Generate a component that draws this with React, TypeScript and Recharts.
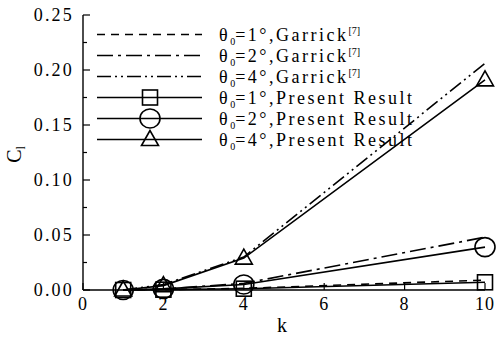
import React from 'react';
import {
  LineChart,
  Line,
  XAxis,
  YAxis,
  Legend,
} from 'recharts';

// reduced frequency k and lift coefficient for each pitch amplitude
const kValues = [1, 2, 4, 10];
const garrick1 = [0, 0.0003, 0.0015, 0.009];
const garrick2 = [0, 0.001, 0.006, 0.048];
const garrick4 = [0, 0.005, 0.03, 0.206];
const present1 = [0, 0.0003, 0.0012, 0.007];
const present2 = [0, 0.001, 0.005, 0.039];
const present4 = [0, 0.004, 0.029, 0.191];

const xTicks = [0, 2, 4, 6, 8, 10];
const yTicks = [0, 0.025, 0.05, 0.075, 0.1, 0.125, 0.15, 0.175, 0.2, 0.225, 0.25];
const yLabelled = [0, 0.05, 0.1, 0.15, 0.2, 0.25];

const data = kValues.map((k, i) => ({
  k,
  g1: garrick1[i],
  g2: garrick2[i],
  g4: garrick4[i],
  p1: present1[i],
  p2: present2[i],
  p4: present4[i],
}));

const FONT = "'Liberation Serif', 'DejaVu Serif', serif";

type Marker = 'square' | 'circle' | 'triangle' | null;

const series: { key: string; angle: string; source: string; dash?: string; marker: Marker }[] = [
  { key: 'g1', angle: '1°', source: 'Garrick', dash: '8 6', marker: null },
  { key: 'g2', angle: '2°', source: 'Garrick', dash: '16 5 3 5', marker: null },
  { key: 'g4', angle: '4°', source: 'Garrick', dash: '14 4 2 4 2 4', marker: null },
  { key: 'p1', angle: '1°', source: 'Present Result', marker: 'square' },
  { key: 'p2', angle: '2°', source: 'Present Result', marker: 'circle' },
  { key: 'p4', angle: '4°', source: 'Present Result', marker: 'triangle' },
];

function drawMarker(kind: Marker, cx: number, cy: number, key?: string) {
  const common = { stroke: '#000', strokeWidth: 1.6, fill: 'none' };
  if (kind === 'square') return <rect key={key} x={cx - 7.5} y={cy - 7.5} width={15} height={15} {...common} />;
  if (kind === 'circle') return <ellipse key={key} cx={cx} cy={cy} rx={10} ry={9.5} {...common} />;
  if (kind === 'triangle')
    return <polygon key={key} points={`${cx},${cy - 9} ${cx - 8.5},${cy + 6} ${cx + 8.5},${cy + 6}`} {...common} />;
  return null;
}

const isLabelled = (v: number) => yLabelled.some((t) => Math.abs(t - v) < 1e-9);

const LeftTick = ({ x, y, payload }: any) => (
  <g>
    <line x1={x} x2={x + (isLabelled(payload.value) ? 7 : 4)} y1={y} y2={y} stroke="#000" strokeWidth={1.2} />
    {isLabelled(payload.value) && (
      <text x={x - 9} y={y} dy={6} textAnchor="end" style={{ fontFamily: FONT }} fontSize={18} letterSpacing={2.2} fill="#000">
        {payload.value.toFixed(2)}
      </text>
    )}
  </g>
);

const RightTick = ({ x, y, payload }: any) => (
  <line x1={x} x2={x - (isLabelled(payload.value) ? 7 : 4)} y1={y} y2={y} stroke="#000" strokeWidth={1.2} />
);

const BottomTick = ({ x, y, payload }: any) => (
  <g>
    <line x1={x} x2={x} y1={y} y2={y - 7} stroke="#000" strokeWidth={1.2} />
    <text x={x} y={y} dy={20} textAnchor="middle" style={{ fontFamily: FONT }} fontSize={18} letterSpacing={1} fill="#000">
      {payload.value}
    </text>
  </g>
);

const TopTick = ({ x, y }: any) => <line x1={x} x2={x} y1={y} y2={y + 7} stroke="#000" strokeWidth={1.2} />;

const LegendBox = () => (
  <div style={{ fontFamily: FONT, fontSize: 18, letterSpacing: 2.5, color: '#000', lineHeight: '21px' }}>
    {series.map((s) => (
      <div key={s.key} style={{ display: 'flex', alignItems: 'center', height: 21 }}>
        <svg width={106} height={21} style={{ display: 'block' }}>
          <line x1={0} x2={105} y1={10.5} y2={10.5} stroke="#000" strokeWidth={1.6} strokeDasharray={s.dash} />
          {drawMarker(s.marker, 53, 10.5)}
        </svg>
        <span style={{ marginLeft: 16, whiteSpace: 'nowrap', lineHeight: '18px' }}>
          θ<sub style={{ fontSize: 10, verticalAlign: -4, letterSpacing: 0, lineHeight: 0 }}>0</sub>={s.angle},{s.source}
          {s.source === 'Garrick' && (
            <sup style={{ fontSize: 10, verticalAlign: 7, letterSpacing: 0, lineHeight: 0 }}>[7]</sup>
          )}
        </span>
      </div>
    ))}
  </div>
);

const YTitle = ({ viewBox }: any) => {
  const cx = 21;
  const cy = viewBox.y + viewBox.height / 2 + 2;
  return (
    <text transform={`translate(${cx},${cy}) rotate(-90)`} textAnchor="middle" style={{ fontFamily: FONT }} fontSize={20} fill="#000">
      C<tspan fontSize={12} dy={4}>l</tspan>
    </text>
  );
};

const XTitle = ({ viewBox }: any) => (
  <text x={viewBox.x + viewBox.width / 2 - 2} y={332} textAnchor="middle" style={{ fontFamily: FONT }} fontSize={20} fill="#000">
    k
  </text>
);

export default function App() {
  return (
    <div style={{ position: 'absolute', left: 0, top: 0, width: 498, height: 339, background: '#fff' }}>
      <LineChart width={498} height={339} data={data} margin={{ top: 15, right: 13, bottom: 0, left: 0 }}>
        <XAxis
          dataKey="k"
          type="number"
          domain={[0, 10]}
          ticks={xTicks}
          interval={0}
          height={49}
          tickSize={0}
          tickMargin={0}
          tickLine={false}
          axisLine={{ stroke: '#000', strokeWidth: 1.4 }}
          tick={BottomTick}
          label={<XTitle />}
        />
        <XAxis
          xAxisId="top"
          orientation="top"
          type="number"
          domain={[0, 10]}
          allowDataOverflow
          ticks={xTicks}
          interval={0}
          height={0}
          tickSize={0}
          tickMargin={0}
          tickLine={false}
          axisLine={{ stroke: '#000', strokeWidth: 1.4 }}
          tick={TopTick}
        />
        <YAxis
          type="number"
          domain={[0, 0.25]}
          ticks={yTicks}
          interval={0}
          width={83}
          tickSize={0}
          tickMargin={0}
          tickLine={false}
          axisLine={{ stroke: '#000', strokeWidth: 1.4 }}
          tick={LeftTick}
          label={<YTitle />}
        />
        <YAxis
          yAxisId="right"
          orientation="right"
          type="number"
          domain={[0, 0.25]}
          allowDataOverflow
          ticks={yTicks}
          interval={0}
          width={0}
          tickSize={0}
          tickMargin={0}
          tickLine={false}
          axisLine={{ stroke: '#000', strokeWidth: 1.4 }}
          tick={RightTick}
        />
        <Legend
          layout="vertical"
          align="center"
          verticalAlign="middle"
          content={<LegendBox />}
          wrapperStyle={{ left: 97, top: 24, width: 340 }}
        />
        {series.map((s) => (
          <Line
            key={s.key}
            dataKey={s.key}
            type="linear"
            stroke="#000"
            strokeWidth={1.6}
            strokeDasharray={s.dash}
            isAnimationActive={false}
            dot={s.marker ? (p: any) => drawMarker(s.marker, p.cx, p.cy, `${s.key}-${p.index}`) : false}
            activeDot={false}
            legendType="none"
          />
        ))}
      </LineChart>
    </div>
  );
}
